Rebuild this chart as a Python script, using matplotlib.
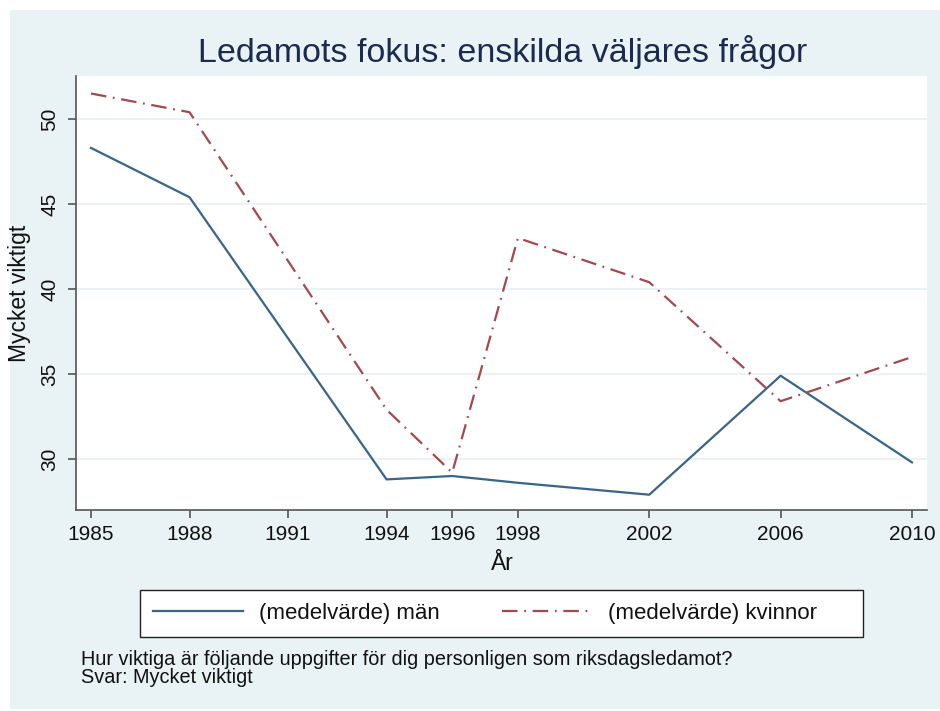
import matplotlib
matplotlib.use("Agg")
import matplotlib.pyplot as plt
from matplotlib.patches import Rectangle

plt.rcParams['font.family'] = ['Liberation Sans', 'DejaVu Sans']

years = [1985, 1988, 1994, 1996, 1998, 2002, 2006, 2010]
men = [48.3, 45.4, 28.8, 29.0, 28.6, 27.9, 34.9, 29.8]
women = [51.5, 50.4, 32.9, 29.2, 43.0, 40.4, 33.4, 36.0]
xticks = [1985, 1988, 1991, 1994, 1996, 1998, 2002, 2006, 2010]
yticks = [30, 35, 40, 45, 50]

title = "Ledamots fokus: enskilda väljares frågor"
ylabel = "Mycket viktigt"
xlabel = "År"
label_men = "(medelvärde) män"
label_women = "(medelvärde) kvinnor"
note = "Hur viktiga är följande uppgifter för dig personligen som riksdagsledamot?\nSvar: Mycket viktigt"

bg = "#e9f2f4"
c_men = "#3a6488"
c_women = "#a3484f"
txt = "#111111"

fig = plt.figure(figsize=(9.4, 7.11), dpi=100)
fig.patch.set_facecolor("white")
fig.patches.append(Rectangle((10/940, 0.003), 1.0, 1 - 10/711 - 0.003,
                             transform=fig.transFigure, facecolor=bg,
                             edgecolor="none", zorder=-5))

ax = fig.add_axes([76/940, 1 - 510/711, (927 - 76)/940, (510 - 76)/711])
ax.set_facecolor("white")
ax.plot(years, men, color=c_men, lw=1.6, label=label_men, zorder=3)
ax.plot(years, women, color=c_women, lw=1.6, dashes=(7, 3, 0.8, 3),
        label=label_women, zorder=3)

ax.set_xlim(1985 - 15/32.84, 2010 + 15/32.84)
ax.set_ylim(27.0, 52.53)
ax.set_xticks(xticks)
ax.set_yticks(yticks)
ax.set_yticklabels([str(v) for v in yticks], rotation=90, va="center")
ax.tick_params(axis="both", direction="out", length=6, width=1.2,
               color="#555555", labelsize=15, labelcolor=txt)
ax.tick_params(axis="x", pad=5)
ax.tick_params(axis="y", pad=6)
for s in ["top", "right"]:
    ax.spines[s].set_visible(False)
for s in ["left", "bottom"]:
    ax.spines[s].set_color("#555555")
    ax.spines[s].set_linewidth(1.2)
ax.grid(axis="y", color="#e6f0f2", lw=1.2, zorder=0)
ax.set_axisbelow(True)

ax.set_ylabel(ylabel, fontsize=16.5, color=txt, va="center")
ax.yaxis.set_label_coords((19.5 - 76)/851, 0.5)
ax.set_xlabel(xlabel, fontsize=16.5, color=txt, va="center")
ax.xaxis.set_label_coords((502 - 76)/851, (510 - 563)/434)

fig.text(0.535, 1 - 52/711, title, ha="center", va="center",
         fontsize=24.5, color="#1b2a4e")

fig.patches.append(Rectangle((140/940, 1 - 637/711), 723/940, 47/711,
                             transform=fig.transFigure, facecolor="white",
                             edgecolor="#222222", lw=1.0, zorder=1))
leg = fig.legend(handles=ax.get_lines(), labels=[label_men, label_women],
                 loc="center left", ncol=2,
                 bbox_to_anchor=(153/940, 1 - 613/711),
                 fontsize=16, frameon=False,
                 handlelength=4.05, handletextpad=0.72, columnspacing=2.8,
                 borderaxespad=0, borderpad=0)
leg.set_zorder(2)
for t in leg.get_texts():
    t.set_color(txt)

fig.text(81/940, 1 - 668.5/711, note, ha="left", va="center",
         fontsize=14.3, color=txt, linespacing=0.88)

fig.savefig("out.png", dpi=100, facecolor=fig.get_facecolor())
